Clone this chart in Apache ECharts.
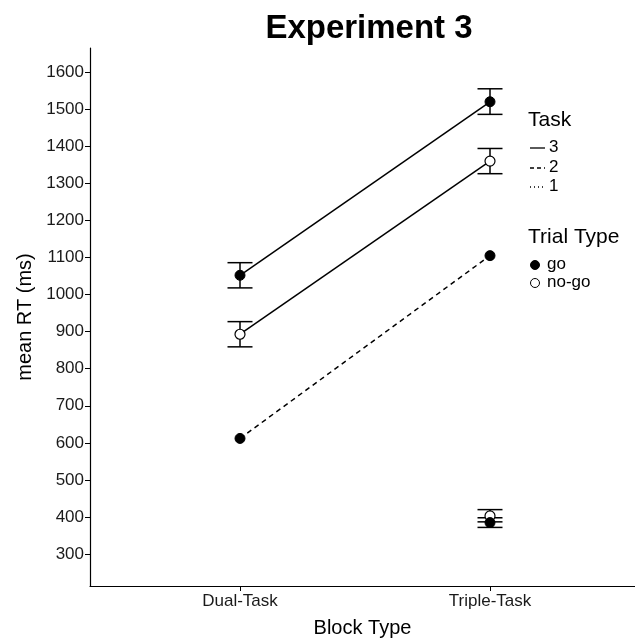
<!DOCTYPE html>
<html>
<head>
<meta charset="utf-8">
<script src="https://cdn.jsdelivr.net/npm/echarts@6/dist/echarts.min.js"></script>
<style>
html,body{margin:0;padding:0;background:#fff;}
#chart{width:635px;height:643px;}
</style>
</head>
<body>
<div id="chart"></div>
<script>
// ---- data ----
var blockTypes = ['Dual-Task', 'Triple-Task'];
var yTicks = [300,400,500,600,700,800,900,1000,1100,1200,1300,1400,1500,1600];
// Task 3
var task3Go      = [1052, 1520];
var task3GoLo    = [1018, 1486];
var task3GoHi    = [1086, 1555];
var task3NoGo    = [893, 1360];
var task3NoGoLo  = [859, 1326];
var task3NoGoHi  = [927, 1394];
// Task 2 (go only)
var task2Go      = [612, 1105];
// Task 1 (Triple-Task only)
var task1Go      = [null, 385];
var task1GoLo    = [null, 372];
var task1GoHi    = [null, 398];
var task1NoGo    = [null, 403];
var task1NoGoLo  = [null, 387];
var task1NoGoHi  = [null, 420];

var FONT = "'Liberation Sans', Arial, sans-serif";

function pts(arr){
  var out = [];
  arr.forEach(function(v,i){ if (v !== null) out.push([i+1, v]); });
  return out;
}
function bars(lo, hi){
  var out = [];
  lo.forEach(function(v,i){ if (v !== null) out.push([i+1, v, hi[i]]); });
  return out;
}
var errData = [].concat(
  bars(task3GoLo, task3GoHi),
  bars(task3NoGoLo, task3NoGoHi),
  bars(task1GoLo, task1GoHi),
  bars(task1NoGoLo, task1NoGoHi)
);

var chart = echarts.init(document.getElementById('chart'), null, {renderer:'canvas'});

var goSym = {symbol:'circle', symbolSize:10, itemStyle:{color:'#000', borderColor:'#000', borderWidth:1}};
var noGoSym = {symbol:'circle', symbolSize:10, itemStyle:{color:'#fff', borderColor:'#000', borderWidth:1.2}};

function lineSeries(name, data, type, sym){
  return {
    name: name,
    type: 'line',
    data: pts(data),
    symbol: sym.symbol,
    symbolSize: sym.symbolSize,
    showAllSymbol: true,
    itemStyle: sym.itemStyle,
    lineStyle: {color:'#000', width:1.5, type:type},
    emphasis: {disabled:true},
    animation: false,
    z: 5
  };
}

var option = {
  backgroundColor: '#fff',
  animation: false,
  title: {
    text: 'Experiment 3',
    left: 364,
    top: 7,
    textAlign: 'center',
    textStyle: {fontFamily: FONT, fontSize: 33, fontWeight: 'bold', color: '#000'}
  },
  grid: {left: 90, right: 0, top: 48, bottom: 56, containLabel: false},
  xAxis: {
    type: 'value',
    min: 0.4,
    max: 2.58,
    name: 'Block Type',
    nameLocation: 'middle',
    nameGap: 32,
    nameTextStyle: {fontFamily: FONT, fontSize: 20, color: '#000'},
    axisLine: {show:true, onZero:false, lineStyle:{color:'#000', width:1.2}},
    axisTick: {show:true, length:5, customValues:[1,2], lineStyle:{color:'#000'}},
    axisLabel: {
      customValues:[1,2],
      formatter: function(v){ return blockTypes[Math.round(v)-1] || ''; },
      fontFamily: FONT, fontSize: 17, color: '#1a1a1a', margin: 7
    },
    splitLine: {show:false}
  },
  yAxis: {
    type: 'value',
    min: 214,
    max: 1665,
    name: 'mean RT (ms)',
    nameLocation: 'middle',
    nameGap: 54,
    nameTextStyle: {fontFamily: FONT, fontSize: 20, color: '#000'},
    axisLine: {show:true, onZero:false, lineStyle:{color:'#000', width:1.2}},
    axisTick: {show:true, length:5, customValues: yTicks, lineStyle:{color:'#000'}},
    axisLabel: {
      customValues: yTicks,
      formatter: function(v){ return String(v); },
      fontFamily: FONT, fontSize: 17, color: '#1a1a1a', margin: 6
    },
    splitLine: {show:false}
  },
  series: [
    {
      type: 'custom',
      name: 'errorbars',
      data: errData,
      z: 2,
      renderItem: function(params, api){
        var x = api.value(0);
        var lo = api.coord([x, api.value(1)]);
        var hi = api.coord([x, api.value(2)]);
        var hw = 12.5;
        var st = {stroke:'#000', lineWidth:1.5};
        return {
          type: 'group',
          children: [
            {type:'line', shape:{x1:lo[0], y1:lo[1], x2:hi[0], y2:hi[1]}, style:st},
            {type:'line', shape:{x1:lo[0]-hw, y1:lo[1], x2:lo[0]+hw, y2:lo[1]}, style:st},
            {type:'line', shape:{x1:hi[0]-hw, y1:hi[1], x2:hi[0]+hw, y2:hi[1]}, style:st}
          ]
        };
      }
    },
    lineSeries('3 go', task3Go, 'solid', goSym),
    lineSeries('3 no-go', task3NoGo, 'solid', noGoSym),
    lineSeries('2 go', task2Go, [5,4], goSym),
    lineSeries('1 no-go', task1NoGo, 'dotted', noGoSym),
    lineSeries('1 go', task1Go, 'dotted', goSym)
  ],
  graphic: [
    {type:'text', left:528, top:110, style:{text:'Task', font:'21px ' + FONT, fill:'#000'}},
    {type:'line', shape:{x1:530, y1:148, x2:545, y2:148}, style:{stroke:'#000', lineWidth:1.3}},
    {type:'text', left:549, top:139, style:{text:'3', font:'17px ' + FONT, fill:'#000'}},
    {type:'line', shape:{x1:530, y1:168, x2:545, y2:168}, style:{stroke:'#000', lineWidth:1.3, lineDash:[4,3]}},
    {type:'text', left:549, top:159, style:{text:'2', font:'17px ' + FONT, fill:'#000'}},
    {type:'line', shape:{x1:530, y1:187, x2:545, y2:187}, style:{stroke:'#000', lineWidth:1.3, lineDash:[1,3]}},
    {type:'text', left:549, top:178, style:{text:'1', font:'17px ' + FONT, fill:'#000'}},
    {type:'text', left:528, top:227, style:{text:'Trial Type', font:'21px ' + FONT, fill:'#000'}},
    {type:'circle', shape:{cx:535, cy:265, r:4.5}, style:{fill:'#000', stroke:'#000'}},
    {type:'text', left:547, top:256, style:{text:'go', font:'17px ' + FONT, fill:'#000'}},
    {type:'circle', shape:{cx:535, cy:283, r:4.5}, style:{fill:'#fff', stroke:'#000', lineWidth:1}},
    {type:'text', left:547, top:274, style:{text:'no-go', font:'17px ' + FONT, fill:'#000'}}
  ]
};
chart.setOption(option);
</script>
</body>
</html>
